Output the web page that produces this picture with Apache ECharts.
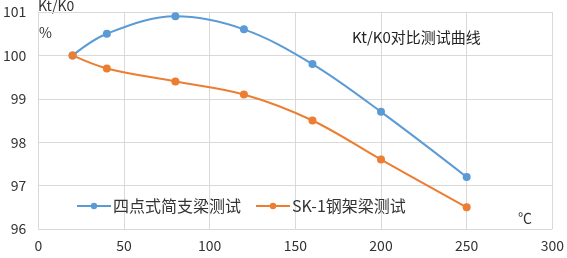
<!DOCTYPE html>
<html>
<head>
<meta charset="utf-8">
<script src="https://cdn.jsdelivr.net/npm/echarts@6/dist/echarts.min.js"></script>
<style>
html, body { margin: 0; padding: 0; background: #fff; }
#chart { width: 567px; height: 258px; }
</style>
</head>
<body>
<div id="chart"></div>
<script>
var dom = document.getElementById('chart');
var myChart = echarts.init(dom, null, { renderer: 'canvas' });

// temperature (℃)
const temps = [20, 40, 80, 120, 160, 200, 250];
// Kt/K0 (%)
const simpleBeam = [100, 100.5, 100.9, 100.6, 99.8, 98.7, 97.2];
const frameBeam = [100, 99.7, 99.4, 99.1, 98.5, 97.6, 96.5];
const seriesNames = ['四点式简支梁测试', 'SK-1钢架梁测试'];

const colors = ['#5B9BD5', '#ED7D31'];
const font = "'Noto Sans CJK SC', 'Noto Sans', sans-serif";

function pairs(ys) {
  return temps.map(function (t, i) { return [t, ys[i]]; });
}

var option = {
  backgroundColor: '#fff',
  color: colors,
  animation: false,
  grid: { left: 37, right: 11, top: 12, bottom: 29, containLabel: false },
  title: {
    text: 'Kt/K0对比测试曲线',
    left: 352,
    top: 30,
    padding: 0,
    textStyle: { fontFamily: font, fontSize: 15, fontWeight: 'normal', color: '#222' }
  },
  legend: {
    left: 76,
    top: 198,
    padding: 0,
    itemWidth: 34,
    itemHeight: 8,
    itemGap: 14,
    textStyle: { fontFamily: font, fontSize: 16, color: '#333', padding: [0, 0, 0, -3] },
    data: seriesNames
  },
  graphic: [
    { type: 'text', left: 38, top: -1, style: { text: 'Kt/K0', font: '14px ' + font, fill: '#333' } },
    { type: 'text', left: 39, top: 26, style: { text: '%', font: '14px ' + font, fill: '#333' } },
    { type: 'text', left: 518, top: 211, style: { text: '℃', font: '14px ' + font, fill: '#333' } }
  ],
  xAxis: {
    type: 'value',
    min: 0,
    max: 300,
    interval: 50,
    axisLine: { show: false },
    axisTick: { show: false },
    axisLabel: { fontFamily: font, fontSize: 14, color: '#333', margin: 10 },
    splitLine: { show: true, lineStyle: { color: '#d9d9d9', width: 1 } }
  },
  yAxis: {
    type: 'value',
    min: 96,
    max: 101,
    interval: 1,
    axisLine: { show: true, lineStyle: { color: '#d9d9d9' } },
    axisTick: { show: false },
    axisLabel: { fontFamily: font, fontSize: 14, color: '#333', margin: 12 },
    splitLine: { show: true, lineStyle: { color: '#d9d9d9', width: 1 } }
  },
  series: [
    {
      name: seriesNames[0],
      type: 'line',
      smooth: 0.35,
      symbol: 'circle',
      symbolSize: 8,
      lineStyle: { width: 2 },
      data: pairs(simpleBeam)
    },
    {
      name: seriesNames[1],
      type: 'line',
      smooth: 0.35,
      symbol: 'circle',
      symbolSize: 8,
      lineStyle: { width: 2 },
      data: pairs(frameBeam)
    }
  ]
};

myChart.setOption(option);
window.addEventListener('resize', myChart.resize);
</script>
</body>
</html>
